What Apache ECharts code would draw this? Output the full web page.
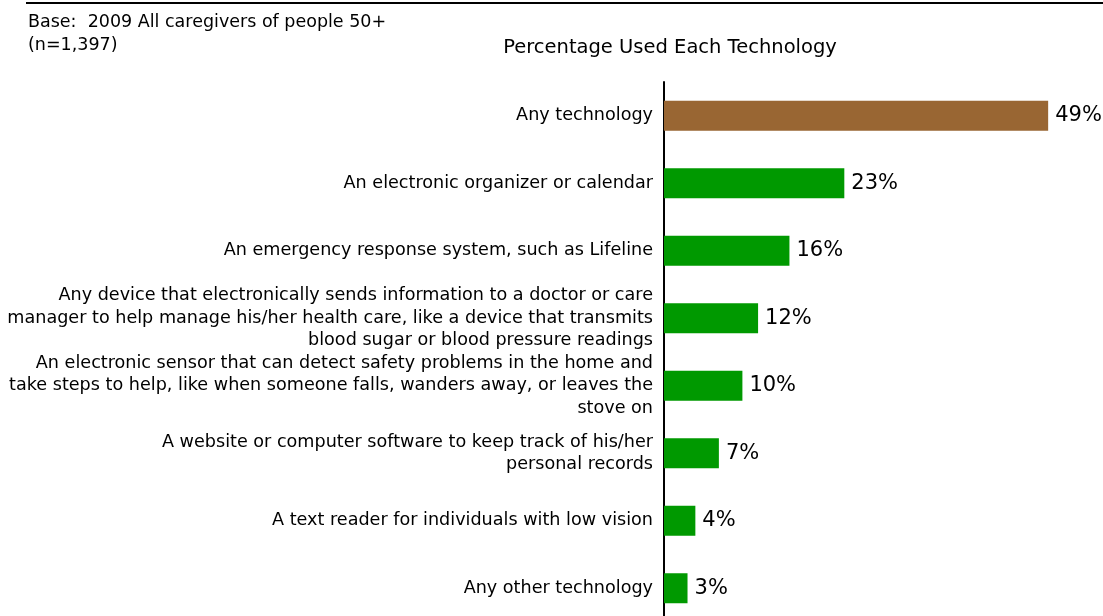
<!DOCTYPE html>
<html>
<head>
<meta charset="utf-8">
<script src="https://cdn.jsdelivr.net/npm/echarts@6/dist/echarts.min.js"></script>
<style>html,body{margin:0;padding:0;background:#fff}#c{width:1103px;height:616px}</style>
</head>
<body>
<div id="c"></div>
<script>
const categories = [
  "Any technology",
  "An electronic organizer or calendar",
  "An emergency response system, such as Lifeline",
  "Any device that electronically sends information to a doctor or care\nmanager to help manage his/her health care, like a device that transmits\nblood sugar or blood pressure readings",
  "An electronic sensor that can detect safety problems in the home and\ntake steps to help, like when someone falls, wanders away, or leaves the\nstove on",
  "A website or computer software to keep track of his/her\npersonal records",
  "A text reader for individuals with low vision",
  "Any other technology"
];
const values = [49, 23, 16, 12, 10, 7, 4, 3];
const barColors = ["#996633", "#009900", "#009900", "#009900", "#009900", "#009900", "#009900", "#009900"];
const titleText = "Percentage Used Each Technology";
const baseText = "Base:  2009 All caregivers of people 50+\n(n=1,397)";

const chart = echarts.init(document.getElementById('c'));
const FONT = "DejaVu Sans, Verdana, sans-serif";
const catData = categories.map((c, i) => {
  if (i === 0) return {value: c, textStyle: {padding: [0, 0, 6, 0]}};
  if (i === 3) return {value: c, textStyle: {padding: [0, 0, 12, 0]}};
  if (i === 5) return {value: c, textStyle: {padding: [4, 0, 0, 0]}};
  return c;
});
chart.setOption({
  animation: false,
  title: [{
    text: titleText, left: 665, top: 33, textAlign: 'center',
    textStyle: {fontFamily: FONT, fontSize: 19.5, fontWeight: 'normal', color: '#000'}
  }],
  graphic: [
    {type: 'line', shape: {x1: 26, y1: 3, x2: 1103, y2: 3}, style: {stroke: '#000', lineWidth: 2}},
    {type: 'text', left: 28, top: 11, style: {text: baseText, fontFamily: FONT, fontSize: 17.5, fill: '#000', lineHeight: 23}}
  ],
  grid: {left: 664, top: 82, width: 392, height: 540, outerBoundsMode: 'none', containLabel: false},
  xAxis: {
    type: 'value', min: 0, max: 50, show: false
  },
  yAxis: {
    type: 'category', data: catData, inverse: true,
    axisLine: {show: true, lineStyle: {color: '#000', width: 2}},
    axisTick: {show: false},
    axisLabel: {
      margin: 11, color: '#000', fontFamily: FONT, fontSize: 17.6, lineHeight: 22.5, align: 'right'
    }
  },
  series: [{
    type: 'bar', barWidth: 30,
    data: values.map((v, i) => ({value: v, itemStyle: {color: barColors[i]}})),
    label: {
      show: true, position: 'right', distance: 7, formatter: '{c}%',
      color: '#000', fontFamily: FONT, fontSize: 21
    }
  }]
});
</script>
</body>
</html>
